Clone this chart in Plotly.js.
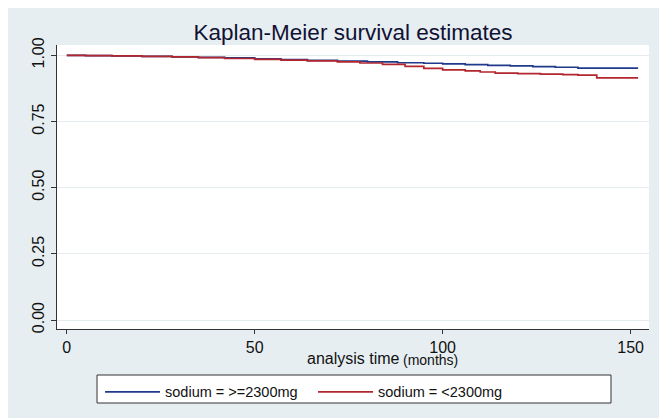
<!DOCTYPE html>
<html>
<head>
<meta charset="utf-8">
<script src="https://cdn.plot.ly/plotly-3.0.1.min.js"></script>
<style>
  html, body { margin: 0; padding: 0; background: #ffffff; }
  #chart { position: absolute; left: 8px; top: 8px; width: 651px; height: 410px; }
</style>
</head>
<body>
<div id="chart"></div>
<script>
// Kaplan-Meier step data
const highTime = [0, 5, 12, 20, 28, 35, 42, 50, 57, 64, 72, 80, 88, 95, 100, 106, 112, 118, 124, 130, 136, 152];
const highSurv = [1.000, 0.999, 0.998, 0.996, 0.994, 0.992, 0.990, 0.987, 0.984, 0.981, 0.978, 0.975, 0.972, 0.970, 0.968, 0.965, 0.962, 0.960, 0.957, 0.955, 0.952, 0.952];

const lowTime = [0, 5, 12, 20, 28, 35, 42, 50, 57, 64, 72, 78, 84, 90, 95, 100, 106, 110, 114, 120, 126, 132, 136, 141, 152];
const lowSurv = [1.000, 0.999, 0.998, 0.996, 0.994, 0.991, 0.988, 0.985, 0.982, 0.979, 0.975, 0.971, 0.966, 0.958, 0.951, 0.945, 0.941, 0.937, 0.933, 0.931, 0.929, 0.927, 0.925, 0.915, 0.915];

const seriesNames = ['sodium = >=2300mg', 'sodium = <2300mg'];
const xTicks = [0, 50, 100, 150];
const yTicks = [0, 0.25, 0.5, 0.75, 1];
const yTickLabels = ['0.00', '0.25', '0.50', '0.75', '1.00'];

const FONT = 'Liberation Sans, Arial, Helvetica, sans-serif';

const traces = [
  { x: highTime, y: highSurv, name: seriesNames[0], type: 'scatter', mode: 'lines',
    line: { shape: 'hv', color: '#1f3a8a', width: 1.7 } },
  { x: lowTime, y: lowSurv, name: seriesNames[1], type: 'scatter', mode: 'lines',
    line: { shape: 'hv', color: '#b3262d', width: 1.7 } }
];

const layout = {
  width: 651, height: 410,
  margin: { l: 49, r: 10, t: 37, b: 89 },
  paper_bgcolor: '#e7eef2',
  plot_bgcolor: '#ffffff',
  font: { family: FONT, color: '#111111', size: 16 },
  title: { text: 'Kaplan-Meier survival estimates', font: { family: FONT, size: 22.5, color: '#111133' },
           xref: 'paper', x: 0.5, xanchor: 'center', yref: 'container', y: 1 - 24 / 410, yanchor: 'middle' },
  xaxis: {
    range: [-2.6, 154.9], tickvals: xTicks, showgrid: false, zeroline: false,
    showline: true, linecolor: '#333333', linewidth: 1,
    ticks: 'outside', ticklen: 4, tickcolor: '#333333',
    tickfont: { family: FONT, size: 16, color: '#111111' }
  },
  yaxis: {
    range: [-0.034, 1.039], tickvals: yTicks, ticktext: yTickLabels, tickangle: -90,
    ticklabelstandoff: 1,
    showgrid: true, gridcolor: '#e4ecf0', gridwidth: 1, zeroline: false,
    showline: true, linecolor: '#333333', linewidth: 1,
    ticks: 'outside', ticklen: 5, tickcolor: '#333333',
    tickfont: { family: FONT, size: 16, color: '#111111' }
  },
  showlegend: true,
  legend: {
    orientation: 'h', x: 0.0727, xanchor: 'left', y: -0.165, yanchor: 'top',
    bgcolor: 'rgba(0,0,0,0)', borderwidth: 0,
    font: { family: FONT, size: 14.5, color: '#111111' },
    itemwidth: 55, entrywidth: 143, entrywidthmode: 'pixels', traceorder: 'normal'
  },
  shapes: [
    { type: 'rect', xref: 'paper', yref: 'paper', x0: 0.0676, x1: 0.9358, y0: -0.2606, y1: -0.162,
      fillcolor: '#ffffff', line: { color: '#333333', width: 1 }, layer: 'below' }
  ],
  annotations: [
    { text: 'analysis time', xref: 'paper', yref: 'paper', x: 0.5, y: 0, xanchor: 'center', yanchor: 'middle',
      yshift: -29, showarrow: false, borderpad: 0, font: { family: FONT, size: 16, color: '#111111' } },
    { text: '(months)', xref: 'paper', yref: 'paper', x: 0.583, y: 0, xanchor: 'left', yanchor: 'middle',
      yshift: -31, showarrow: false, borderpad: 0, font: { family: FONT, size: 14, color: '#111111' } }
  ]
};

Plotly.newPlot('chart', traces, layout, { displayModeBar: false, staticPlot: true });
</script>
</body>
</html>
